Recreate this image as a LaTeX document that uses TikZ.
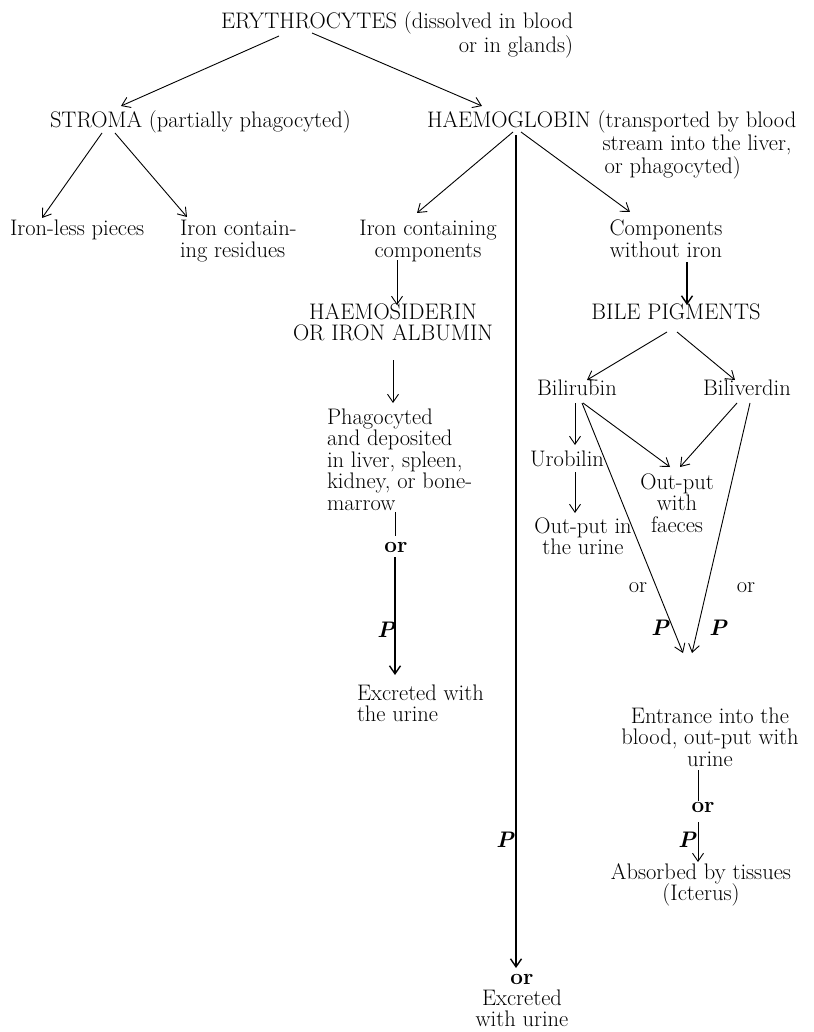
\documentclass[tikz,border=0pt]{standalone}
\usepackage{tikz}
\usetikzlibrary{arrows.meta,positioning}

\begin{document}
\begin{tikzpicture}[
    x=1pt, y=-1pt,
    every node/.style={inner sep=0pt, outer sep=0pt, font=\fontsize{22.5}{21.5}\selectfont},
    txt/.style={align=center, anchor=base},
    txtl/.style={align=left, anchor=base west},
    lbl/.style={anchor=base},
    pmark/.style={anchor=base, font=\fontsize{22.5}{21.5}\selectfont\bfseries\itshape},
    arr/.style={-{Straight Barb[length=8pt,width=11pt]}, line width=0.9pt},
    arrb/.style={arr, line width=1.4pt},
    ln/.style={line width=0.9pt}
]
    \useasboundingbox (0,0) rectangle (813,1032);

    \node [txtl] (ery) at (221,29) {ERYTHROCYTES \begin{tabular}[t]{@{}r@{}}(dissolved in blood\\or in glands)\end{tabular}};
    \node [txtl] (str) at (50,128) {STROMA (partially phagocyted)};
    \node [txtl] (hb) at (427,128) {HAEMOGLOBIN \begin{tabular}[t]{@{}l@{}}(transported by blood\\\hspace{5pt}stream into the liver,\\\hspace{7pt}or phagocyted)\end{tabular}};
    \node [txtl] (less) at (10,236) {Iron-less pieces};
    \node [txtl] (res) at (180,257.5) {Iron contain-\\ing residues};
    \node [txt] (icomp) at (428,257.5) {Iron containing\\components};
    \node [txt] (ncomp) at (666,257.5) {Components\\without iron};
    \node [txt] (hsd) at (393,340.5) {HAEMOSIDERIN\\OR IRON ALBUMIN};
    \node [txt] (bile) at (676,319) {BILE PIGMENTS};
    \node [txt] (bru) at (577,395) {Bilirubin};
    \node [txt] (bve) at (747,395) {Biliverdin};
    \node [txtl] (phag) at (327,510) {Phagocyted\\and deposited\\in liver, spleen,\\kidney, or bone-\\marrow};
    \node [txt] (uro) at (567,466) {Urobilin};
    \node [txt] (faec) at (677,532) {Out-put\\with\\faeces};
    \node [txt] (ourine) at (583,554.5) {Out-put in\\the urine};
    \node [lbl] (or1) at (396,552) {\textbf{or}};
    \node [txtl] (exc) at (357,721.5) {Excreted with\\the urine};
    \node [lbl] (or2) at (638,592) {or};
    \node [lbl] (or3) at (746,592) {or};
    \node [pmark] (p1) at (386,637) {P};
    \node [pmark] (p2) at (660,635) {P};
    \node [pmark] (p3) at (718,635) {P};
    \node [txt] (ent) at (710,766) {Entrance into the\\blood, out-put with\\urine};
    \node [lbl] (or4) at (703,812) {\textbf{or}};
    \node [pmark] (p4) at (687,847) {P};
    \node [txt] (abs) at (701,900.5) {Absorbed by tissues\\(Icterus)};
    \node [pmark] (p5) at (505,847) {P};
    \node [txt, font=\fontsize{22.5}{21}\selectfont] (fin) at (522,1026) {\textbf{or}\\Excreted\\with urine};

    \draw [arr] ([shift={(58,7)}]ery.base west) -- ([shift={(71,-22)}]str.base west);
    \draw [arr] ([shift={(91,4)}]ery.base west) -- ([shift={(55,-22)}]hb.base west);
    \draw [arr] ([shift={(52,5)}]str.base west) -- ([shift={(32,-18)}]less.base west);
    \draw [arr] ([shift={(65,5)}]str.base west) -- ([shift={(7,-40.5)}]res.base west);
    \draw [arr] ([shift={(86,4)}]hb.base west) -- ([shift={(-11,-44.5)}]icomp.base);
    \draw [arr] ([shift={(94,4)}]hb.base west) -- ([shift={(-36,-45.5)}]ncomp.base);
    \draw [arrb] ([shift={(89,7)}]hb.base west) -- ([shift={(-6,-58)}]fin.base);
    \draw [arr] ([shift={(-31,2.5)}]icomp.base) -- ([shift={(4,-35.5)}]hsd.base);
    \draw [arrb] ([shift={(21,4.5)}]ncomp.base) -- ([shift={(11,-14)}]bile.base);
    \draw [arr] ([shift={(0,19.5)}]hsd.base) -- ([shift={(66,-107)}]phag.base west);
    \draw [arr] ([shift={(-9,13)}]bile.base) -- ([shift={(10,-15)}]bru.base);
    \draw [arr] ([shift={(1,13)}]bile.base) -- ([shift={(-12,-15)}]bve.base);
    \draw [arr] ([shift={(-2,8)}]bru.base) -- ([shift={(8,-21)}]uro.base);
    \draw [arr] ([shift={(6,8)}]bru.base) -- ([shift={(-7,-65)}]faec.base);
    \draw [arr] ([shift={(-10,8)}]bve.base) -- ([shift={(3,-65)}]faec.base);
    \draw [arr] ([shift={(8,6)}]uro.base) -- ([shift={(-8,-41.5)}]ourine.base);
    \draw [arr] ([shift={(5,8)}]bru.base) -- ([shift={(-27,-113)}]ent.base);
    \draw [arr] ([shift={(3,8)}]bve.base) -- ([shift={(-18,-113)}]ent.base);
    \draw [ln] ([shift={(68,2)}]phag.base west) -- ([shift={(-1,-6)}]or1.north);
    \draw [arrb] ([shift={(-1,5)}]or1.south) -- ([shift={(38,-46.5)}]exc.base west);
    \draw [ln] ([shift={(-12,4)}]ent.base) -- ([shift={(-5,-1)}]or4.north);
    \draw [arr] ([shift={(-5,10)}]or4.south) -- ([shift={(-3,-38.5)}]abs.base);
\end{tikzpicture}
\end{document}
